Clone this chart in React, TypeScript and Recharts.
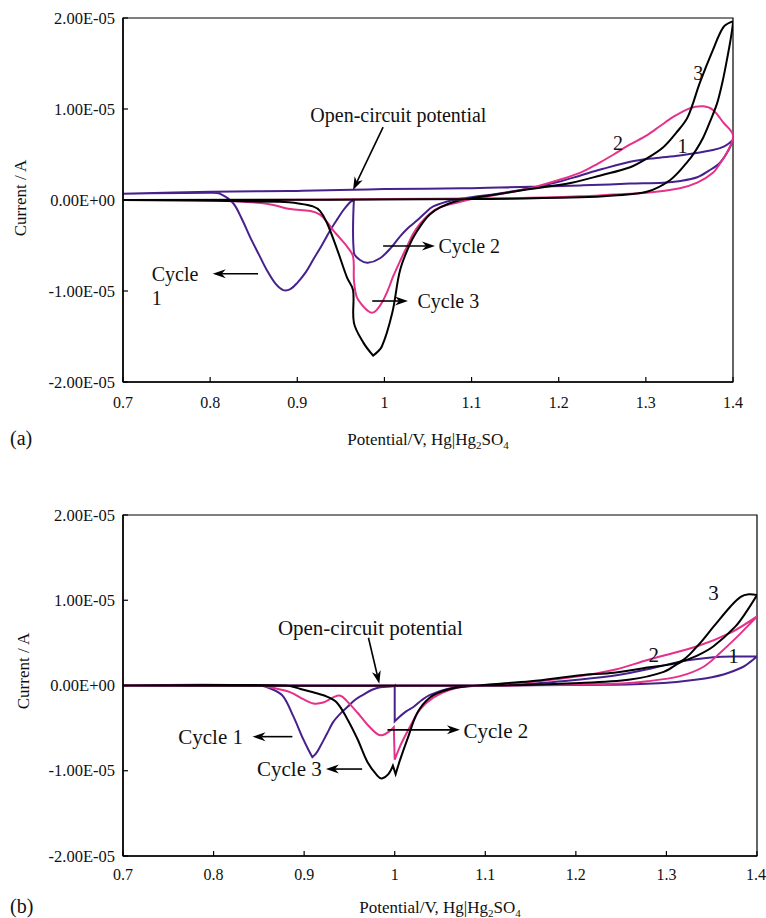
import { Label, Line, LineChart, ReferenceArea, ReferenceDot, ReferenceLine, XAxis, YAxis } from "recharts";

// Cyclic voltammograms, 3 cycles each. Points are [potential V vs Hg|Hg2SO4, current in 1e-5 A].
type P = [number, number];

const xTicks = [0.7, 0.8, 0.9, 1.0, 1.1, 1.2, 1.3, 1.4];
const yTicks = [-2, -1, 0, 1, 2];

// ---- panel (a)
const a_cycle1: P[] = [
  [0.965, 0.01], [0.965, -0.58], [0.972, -0.66], [0.981, -0.69], [0.995, -0.64], [1.008, -0.52],
  [1.018, -0.4], [1.028, -0.3], [1.038, -0.22], [1.047, -0.14], [1.056, -0.07], [1.079, 0.0],
  [1.1, 0.03], [1.13, 0.07], [1.167, 0.13], [1.2, 0.2], [1.225, 0.27], [1.25, 0.34], [1.282, 0.42],
  [1.31, 0.46], [1.339, 0.49], [1.377, 0.55], [1.39, 0.59], [1.4, 0.66],
  [1.395, 0.55], [1.385, 0.41], [1.372, 0.32], [1.359, 0.25], [1.34, 0.21], [1.32, 0.19],
  [1.282, 0.18], [1.225, 0.16], [1.1, 0.13], [1.0, 0.12], [0.9, 0.1], [0.8, 0.09], [0.7, 0.07],
  [0.8, 0.08], [0.811, 0.07], [0.826, -0.03], [0.836, -0.2], [0.846, -0.41], [0.856, -0.6],
  [0.865, -0.77], [0.875, -0.92], [0.884, -0.99], [0.892, -0.98], [0.9, -0.91], [0.91, -0.79],
  [0.918, -0.66], [0.928, -0.5], [0.938, -0.33], [0.946, -0.21], [0.953, -0.11], [0.96, -0.03],
  [0.965, 0.01],
];
const a_cycle2: P[] = [
  [0.7, 0.0], [0.78, 0.0], [0.82, -0.01], [0.865, -0.04], [0.892, -0.1], [0.915, -0.12],
  [0.926, -0.16], [0.934, -0.24], [0.941, -0.33], [0.949, -0.42], [0.957, -0.51], [0.964, -0.62],
  [0.965, -0.88], [0.968, -1.06], [0.974, -1.15], [0.98, -1.21], [0.986, -1.24], [0.991, -1.21],
  [0.997, -1.13], [1.004, -0.99], [1.01, -0.84], [1.018, -0.67], [1.026, -0.51], [1.033, -0.37],
  [1.041, -0.26], [1.052, -0.15], [1.064, -0.08], [1.087, -0.02], [1.1, 0.01], [1.13, 0.06],
  [1.167, 0.13], [1.2, 0.22], [1.225, 0.3], [1.245, 0.4], [1.263, 0.5], [1.282, 0.61],
  [1.301, 0.71], [1.316, 0.81], [1.331, 0.91], [1.351, 1.01], [1.366, 1.03], [1.377, 0.99],
  [1.389, 0.85], [1.4, 0.71],
  [1.393, 0.52], [1.385, 0.4], [1.377, 0.3], [1.359, 0.19], [1.339, 0.13], [1.301, 0.08],
  [1.263, 0.06], [1.225, 0.04], [1.15, 0.02], [1.0, 0.01], [0.85, 0.0], [0.7, 0.0],
];
const a_cycle3: P[] = [
  [0.7, 0.0], [0.88, -0.02], [0.903, -0.04], [0.918, -0.07], [0.926, -0.12], [0.934, -0.25],
  [0.946, -0.55], [0.957, -0.85], [0.964, -0.99], [0.965, -1.35], [0.976, -1.57], [0.987, -1.71],
  [0.997, -1.61], [1.009, -1.24], [1.018, -0.77], [1.03, -0.47], [1.041, -0.29], [1.052, -0.16],
  [1.064, -0.08], [1.087, 0.0], [1.1, 0.02], [1.167, 0.12], [1.215, 0.19], [1.248, 0.27],
  [1.282, 0.36], [1.3, 0.45], [1.32, 0.58], [1.335, 0.74], [1.348, 0.91], [1.362, 1.29],
  [1.377, 1.65], [1.389, 1.9], [1.399, 1.96], [1.4, 1.95],
  [1.397, 1.75], [1.393, 1.54], [1.388, 1.3], [1.382, 1.07], [1.374, 0.87], [1.366, 0.69],
  [1.357, 0.54], [1.347, 0.41], [1.328, 0.22], [1.301, 0.09], [1.263, 0.05], [1.225, 0.03],
  [1.1, 0.01], [0.7, 0.0],
];

// ---- panel (b)
const b_cycle1: P[] = [
  [0.7, 0.0], [0.85, 0.0], [0.866, -0.05], [0.877, -0.13], [0.888, -0.36], [0.899, -0.63],
  [0.905, -0.76], [0.909, -0.84], [0.913, -0.8], [0.918, -0.71], [0.925, -0.57], [0.932, -0.43],
  [0.94, -0.33], [0.948, -0.25], [0.956, -0.17], [0.965, -0.11], [0.975, -0.05], [0.984, -0.02],
  [0.998, -0.01], [1.0, 0.0], [1.0, -0.42], [1.006, -0.36], [1.013, -0.3], [1.021, -0.25],
  [1.03, -0.17], [1.039, -0.11], [1.058, -0.04], [1.08, -0.01], [1.15, 0.02], [1.205, 0.07],
  [1.245, 0.12], [1.279, 0.19], [1.315, 0.28], [1.352, 0.33], [1.38, 0.34], [1.4, 0.34],
  [1.393, 0.28], [1.385, 0.22], [1.363, 0.13], [1.334, 0.07], [1.297, 0.03], [1.242, 0.01],
  [1.1, 0.0], [0.7, 0.0],
];
const b_cycle2: P[] = [
  [0.7, 0.0], [0.85, 0.0], [0.862, -0.02], [0.885, -0.08], [0.899, -0.16], [0.91, -0.21],
  [0.921, -0.2], [0.932, -0.14], [0.94, -0.12], [0.947, -0.18], [0.959, -0.32], [0.97, -0.46],
  [0.981, -0.57], [0.987, -0.58], [0.995, -0.53], [0.999, -0.49], [1.0, -0.87], [1.006, -0.71],
  [1.012, -0.58], [1.017, -0.48], [1.028, -0.28], [1.043, -0.14], [1.061, -0.05], [1.08, -0.01],
  [1.15, 0.04], [1.205, 0.11], [1.245, 0.19], [1.279, 0.3], [1.334, 0.46], [1.371, 0.62],
  [1.4, 0.81],
  [1.39, 0.7], [1.378, 0.57], [1.36, 0.39], [1.341, 0.22], [1.315, 0.11], [1.279, 0.05],
  [1.242, 0.02], [1.1, 0.0], [0.7, 0.0],
];
const b_cycle3: P[] = [
  [0.7, 0.0], [0.88, 0.0], [0.896, -0.04], [0.91, -0.08], [0.925, -0.13], [0.936, -0.2],
  [0.947, -0.38], [0.959, -0.63], [0.97, -0.9], [0.981, -1.06], [0.986, -1.09], [0.993, -1.04],
  [0.998, -0.94], [1.001, -1.04], [1.006, -0.87], [1.014, -0.63], [1.025, -0.32], [1.039, -0.14],
  [1.058, -0.05], [1.08, -0.01], [1.15, 0.05], [1.205, 0.12], [1.242, 0.15], [1.279, 0.21],
  [1.315, 0.28], [1.334, 0.46], [1.352, 0.69], [1.371, 0.93], [1.382, 1.04], [1.391, 1.07],
  [1.4, 1.06],
  [1.388, 0.86], [1.376, 0.69], [1.352, 0.46], [1.334, 0.35], [1.315, 0.27], [1.297, 0.16],
  [1.26, 0.07], [1.205, 0.03], [1.1, 0.0], [0.7, 0.0],
];

// annotations: text anchors and arrows, in data coordinates
const a_texts = [
  { v: 0.915, i: 0.93, t: "Open-circuit potential", anchor: "start" },
  { v: 1.062, i: -0.5, t: "Cycle 2", anchor: "start" },
  { v: 1.038, i: -1.11, t: "Cycle 3", anchor: "start" },
  { v: 0.733, i: -0.81, t: "Cycle", anchor: "start" },
  { v: 0.733, i: -1.08, t: "1", anchor: "start" },
  { v: 1.36, i: 1.4, t: "3", anchor: "middle" },
  { v: 1.268, i: 0.63, t: "2", anchor: "middle" },
  { v: 1.342, i: 0.59, t: "1", anchor: "middle" },
];
const a_arrows: [P, P][] = [
  [[0.9985, 0.8], [0.964, 0.11]],
  [[0.9985, -0.505], [1.058, -0.505]],
  [[0.986, -1.11], [1.027, -1.11]],
  [[0.855, -0.81], [0.803, -0.81]],
];
const b_texts = [
  { v: 0.871, i: 0.67, t: "Open-circuit potential", anchor: "start" },
  { v: 0.761, i: -0.6, t: "Cycle 1", anchor: "start" },
  { v: 0.848, i: -0.98, t: "Cycle 3", anchor: "start" },
  { v: 1.076, i: -0.53, t: "Cycle 2", anchor: "start" },
  { v: 1.352, i: 1.09, t: "3", anchor: "middle" },
  { v: 1.286, i: 0.36, t: "2", anchor: "middle" },
  { v: 1.374, i: 0.35, t: "1", anchor: "middle" },
];
const b_arrows: [P, P][] = [
  [[0.971, 0.56], [0.983, 0.02]],
  [[0.887, -0.6], [0.843, -0.6]],
  [[0.964, -0.98], [0.924, -0.98]],
  [[0.992, -0.52], [1.072, -0.52]],
];

const PURPLE = "#46218d";
const PINK = "#e5318a";
const BLACK = "#000";
const FONT = "'Liberation Serif', 'Times New Roman', serif";
const W = 766;
const YAXIS_W = 80;
const XAXIS_H = 30;

const rows = (pts: P[]) => pts.map(([v, i]) => ({ v, i }));

function fmtCurrent(n: number) {
  const [m, e] = (n * 1e-5).toExponential(2).split("e");
  const sign = e.startsWith("-") ? "-" : "+";
  return `${m}E${sign}${e.replace(/[+-]/, "").padStart(2, "0")}`;
}

// smooth parametric curve through the points (works for loops); keeps reversals sharp
function smoothLoop(context: any) {
  let pts: number[][] = [];
  return {
    areaStart() {},
    areaEnd() {},
    lineStart() {
      pts = [];
    },
    lineEnd() {
      const n = pts.length;
      if (!n) return;
      context.moveTo(pts[0][0], pts[0][1]);
      const tan = (k: number) => {
        if (k === 0 || k === n - 1) return [0, 0];
        const a = pts[k - 1];
        const m = pts[k];
        const b = pts[k + 1];
        const ux = m[0] - a[0];
        const uy = m[1] - a[1];
        const wx = b[0] - m[0];
        const wy = b[1] - m[1];
        if (ux * wx + uy * wy <= 0) return [0, 0];
        const dx = b[0] - a[0];
        const dy = b[1] - a[1];
        const l = Math.hypot(dx, dy) || 1;
        return [dx / l, dy / l];
      };
      for (let k = 0; k < n - 1; k++) {
        const p = pts[k];
        const q = pts[k + 1];
        const d = Math.hypot(q[0] - p[0], q[1] - p[1]) / 3;
        const t0 = tan(k);
        const t1 = tan(k + 1);
        context.bezierCurveTo(p[0] + t0[0] * d, p[1] + t0[1] * d, q[0] - t1[0] * d, q[1] - t1[1] * d, q[0], q[1]);
      }
    },
    point(x: number, y: number) {
      pts.push([+x, +y]);
    },
  };
}

function Arrow(props: any) {
  const { x1, y1, x2, y2 } = props;
  const a = Math.atan2(y2 - y1, x2 - x1);
  const c = Math.cos(a);
  const s = Math.sin(a);
  const L = 13;
  const H = 4.5;
  const N = 9;
  const bx = x2 - L * c;
  const by = y2 - L * s;
  const pts = [
    [x2, y2],
    [bx - s * H, by + c * H],
    [x2 - N * c, y2 - N * s],
    [bx + s * H, by - c * H],
  ]
    .map((p) => p.join(","))
    .join(" ");
  return (
    <g>
      <line x1={x1} y1={y1} x2={x2 - N * c} y2={y2 - N * s} stroke="#000" strokeWidth={1.6} />
      <polygon points={pts} fill="#000" />
    </g>
  );
}

const XTick = (props: any) => (
  <text x={props.x} y={props.y} dy={11} textAnchor="middle" style={{ fontFamily: FONT }} fontSize={16} fill="#111">
    {String(+Number(props.payload.value).toFixed(1))}
  </text>
);

const YTick = (props: any) => (
  <text x={props.x} y={props.y} dy={5.5} textAnchor="end" style={{ fontFamily: FONT }} fontSize={16.5} fill="#111">
    {fmtCurrent(props.payload.value)}
  </text>
);

type PanelProps = {
  top: number;
  height: number;
  margin: { top: number; right: number; bottom: number; left: number };
  series: P[][];
  texts: { v: number; i: number; t: string; anchor: string }[];
  arrows: [P, P][];
  textSize: number;
  xTickMargin: number;
  tag: string;
  titleBaseline: number;
  yTitleX: number;
  yTitleY: number;
};

function Panel(p: PanelProps) {
  const colors = [PURPLE, PINK, BLACK];
  const plotLeft = p.margin.left + YAXIS_W;
  const plotRight = W - p.margin.right;
  return (
    <div style={{ position: "absolute", left: 0, top: p.top }}>
      <LineChart width={W} height={p.height} margin={p.margin} style={{ fontFamily: FONT }}>
        <XAxis
          type="number"
          dataKey="v"
          domain={[0.7, 1.4]}
          ticks={xTicks}
          allowDataOverflow
          height={XAXIS_H}
          tick={XTick}
          tickSize={-5}
          tickMargin={p.xTickMargin}
          axisLine={{ stroke: "#000", strokeWidth: 1.5 }}
          tickLine={{ stroke: "#000", strokeWidth: 1.2 }}
        >
          <Label
            content={() => (
              <g style={{ fontFamily: FONT }} fill="#111">
                <text x={10} y={p.titleBaseline} fontSize={20}>
                  {p.tag}
                </text>
                <text x={(plotLeft + plotRight) / 2} y={p.titleBaseline} fontSize={17} textAnchor="middle">
                  Potential/V, Hg|Hg
                  <tspan dy={4} fontSize={11}>2</tspan>
                  <tspan dy={-4}>SO</tspan>
                  <tspan dy={4} fontSize={11}>4</tspan>
                </text>
              </g>
            )}
          />
        </XAxis>
        <YAxis
          type="number"
          domain={[-2, 2]}
          ticks={yTicks}
          allowDataOverflow
          width={YAXIS_W}
          tick={YTick}
          tickSize={-5}
          tickMargin={13}
          axisLine={{ stroke: "#000", strokeWidth: 1.5 }}
          tickLine={{ stroke: "#000", strokeWidth: 1.2 }}
        >
          <Label
            content={() => (
              <text
                x={p.yTitleX}
                y={p.yTitleY}
                transform={`rotate(-90, ${p.yTitleX}, ${p.yTitleY})`}
                textAnchor="middle"
                style={{ fontFamily: FONT }}
                fontSize={17}
                fill="#111"
              >
                Current / A
              </text>
            )}
          />
        </YAxis>
        <ReferenceArea x1={0.7} x2={1.4} y1={-2} y2={2} fill="none" stroke="#000" strokeWidth={1.2} />
        {p.series.map((s, k) => (
          <Line
            key={k}
            data={rows(s)}
            dataKey="i"
            type={smoothLoop as any}
            stroke={colors[k]}
            strokeWidth={2}
            dot={false}
            activeDot={false}
            isAnimationActive={false}
          />
        ))}
        {p.arrows.map(([a, b], k) => (
          <ReferenceLine
            key={"ar" + k}
            segment={[
              { x: a[0], y: a[1] },
              { x: b[0], y: b[1] },
            ]}
            shape={Arrow}
          />
        ))}
        {p.texts.map((t, k) => (
          <ReferenceDot
            key={"tx" + k}
            x={t.v}
            y={t.i}
            r={0}
            shape={(d: any) => (
              <text
                x={d.cx}
                y={d.cy}
                textAnchor={t.anchor as any}
                dominantBaseline="central"
                style={{ fontFamily: FONT }}
                fontSize={p.textSize}
                fill="#111"
              >
                {t.t}
              </text>
            )}
          />
        ))}
      </LineChart>
    </div>
  );
}

export default function App() {
  return (
    <div style={{ position: "relative", width: W, height: 918, background: "#fff" }}>
      <style>{"body{margin:0}"}</style>
      <Panel
        top={0}
        height={460}
        margin={{ top: 18, right: 33, bottom: 48, left: 43 }}
        series={[a_cycle1, a_cycle2, a_cycle3]}
        texts={a_texts}
        arrows={a_arrows}
        textSize={20}
        xTickMargin={20}
        tag="(a)"
        titleBaseline={445}
        yTitleX={26}
        yTitleY={198}
      />
      <Panel
        top={460}
        height={458}
        margin={{ top: 55, right: 9, bottom: 32, left: 43 }}
        series={[b_cycle1, b_cycle2, b_cycle3]}
        texts={b_texts}
        arrows={b_arrows}
        textSize={21}
        xTickMargin={18}
        tag="(b)"
        titleBaseline={453}
        yTitleX={29}
        yTitleY={211}
      />
    </div>
  );
}
